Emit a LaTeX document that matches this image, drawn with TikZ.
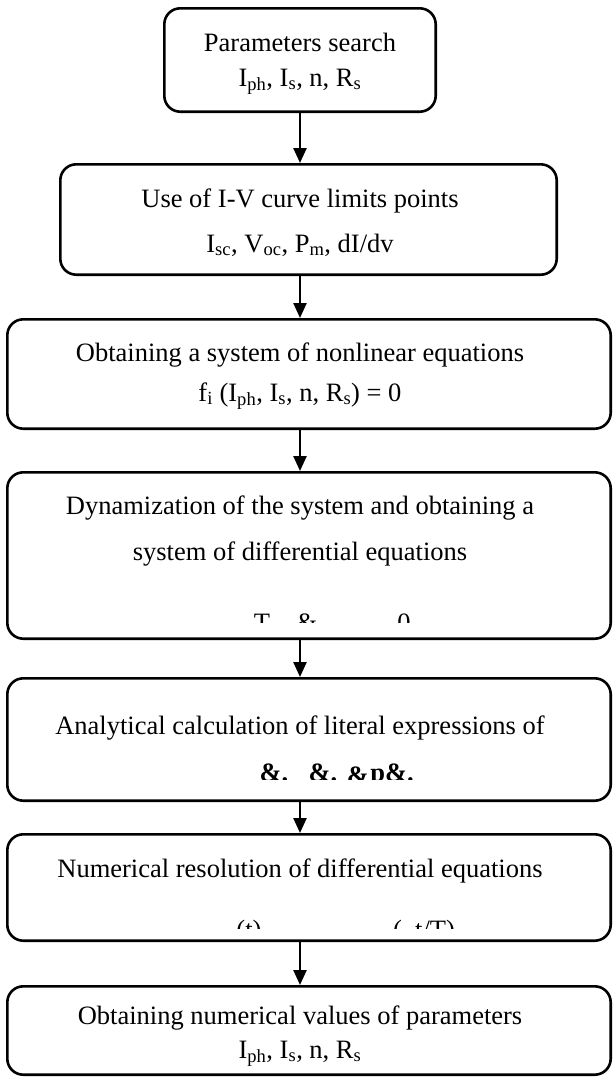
\documentclass[tikz,border=0pt]{standalone}
\usepackage{fontspec}
\setmainfont{Liberation Serif}
\usetikzlibrary{arrows.meta}

\tikzset{
  procbox/.style={draw,line width=2.6pt,rounded corners=16pt,inner sep=0pt},
  steptext/.style={anchor=base,inner sep=0pt,font=\fontsize{26.5}{32}\selectfont},
  flow/.style={-{Triangle[width=13pt,length=15pt]},line width=2.4pt},
}

\begin{document}
\begin{tikzpicture}[x=1pt,y=-1pt]
  \useasboundingbox (0,0) rectangle (614,1077);
  \coordinate (spine) at (300,0);
  % the seven stages
  \node[procbox,minimum width=271.4pt,minimum height=103.4pt] (search) at (300,60) {};
  \node[procbox,minimum width=496.4pt,minimum height=110.4pt] (limits) at (308.5,219.5) {};
  \node[procbox,minimum width=603.4pt,minimum height=109.4pt] (nonlin) at (309,374) {};
  \node[procbox,minimum width=603.4pt,minimum height=166.4pt] (dynam) at (309,555.5) {};
  \node[procbox,minimum width=603.4pt,minimum height=122.4pt] (literal) at (309,739.5) {};
  \node[procbox,minimum width=603.4pt,minimum height=106.4pt] (numres) at (309,887.5) {};
  \node[procbox,minimum width=603.4pt,minimum height=88.4pt] (values) at (309,1030.5) {};
  % texts
  \node[steptext] (searchA) at (300,51) {Parameters search};
  \node[steptext] (searchB) at (300,86) {I\textsubscript{ph}, I\textsubscript{s}, n, R\textsubscript{s}};
  \node[steptext] (limitsA) at (300,207) {Use of I-V curve limits points};
  \node[steptext] (limitsB) at (300,252) {I\textsubscript{sc}, V\textsubscript{oc}, P\textsubscript{m}, dI/dv};
  \node[steptext] (nonlinA) at (300,361) {Obtaining a system of nonlinear equations};
  \node[steptext] (nonlinB) at (300,401) {f\textsubscript{i} (I\textsubscript{ph}, I\textsubscript{s}, n, R\textsubscript{s}) = 0};
  \node[steptext] (dynamA) at (300,514) {Dynamization of the system and obtaining a};
  \node[steptext] (dynamB) at (300,560) {system of differential equations};
  \node[steptext] (literalA) at (300,734) {Analytical calculation of literal expressions of};
  \node[steptext] (numresA) at (300,877) {Numerical resolution of differential equations};
  \node[steptext] (valuesA) at (300,1024) {Obtaining numerical values of parameters};
  \node[steptext] (valuesB) at (300,1058) {I\textsubscript{ph}, I\textsubscript{s}, n, R\textsubscript{s}};
  % equation lines, cut off at the bottom
  \begin{scope}
    \clip (10,600) rectangle (600,622);
    \node[steptext] (dynamT) at (262,631) {T};
    \node[steptext] (dynamD) at (307,631) {\&};
    \node[steptext] (dynamZ) at (404,631) {0};
  \end{scope}
  \begin{scope}
    \clip (10,750) rectangle (600,779);
    \node[steptext] (literalP) at (274,781) {\textbf{\&.}};
    \node[steptext] (literalQ) at (323,781) {\textbf{\&.}};
    \node[steptext] (literalR) at (358,784) {\textbf{\&}};
    \node[steptext] (literalS) at (392,781) {\textbf{p\&.}};
  \end{scope}
  \begin{scope}
    \clip (10,910) rectangle (600,928);
    \node[steptext] (numresT) at (249,938) {(t)};
    \node[steptext] (numresU) at (424,938) {(\ \ t/T)};
  \end{scope}
  % connectors
  \foreach \a/\b in {search/limits,limits/nonlin,nonlin/dynam,dynam/literal,literal/numres,numres/values}
    \draw[flow] (\a.south -| spine) -- (\b.north -| spine);
\end{tikzpicture}
\end{document}
